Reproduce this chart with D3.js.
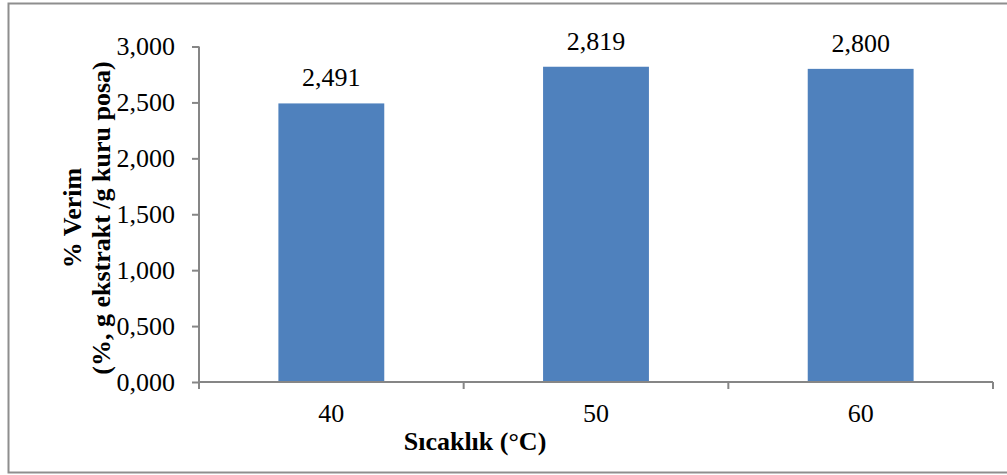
<!DOCTYPE html>
<html>
<head>
<meta charset="utf-8">
<script src="https://cdn.jsdelivr.net/npm/d3@7"></script>
<style>
  html, body { margin: 0; padding: 0; background: #fff; }
  svg { display: block; font-family: "Liberation Serif", "Times New Roman", serif; }
</style>
</head>
<body>
<svg id="chart" width="1007" height="475"></svg>
<script>
const categories = ["40", "50", "60"];
const values = [2.491, 2.819, 2.800];
const yTicks = [0, 0.5, 1, 1.5, 2, 2.5, 3];
const xTitle = "Sıcaklık (°C)";
const yTitle = ["% Verim", "(%, g ekstrakt /g kuru posa)"];

const trLocale = d3.formatLocale({ decimal: ",", thousands: ".", grouping: [3], currency: ["", ""] });
const fmt = trLocale.format(".3f");

const svg = d3.select("#chart");
const axisColor = "#868686";

// outer frame (no right edge visible in the picture)
svg.append("rect")
  .attr("x", 8.5).attr("y", 3.5)
  .attr("width", 1020).attr("height", 469)
  .attr("fill", "none")
  .attr("stroke", "#8e8e8e")
  .attr("stroke-width", 2);

const plotL = 199, plotR = 993, plotT = 46.5, plotB = 382;

const x = d3.scaleBand()
  .domain(categories)
  .range([plotL, plotR])
  .paddingInner(0.6)
  .paddingOuter(0.3);

const y = d3.scaleLinear().domain([0, 3]).range([plotB, plotT]);

// bars
svg.append("g")
  .selectAll("rect")
  .data(values)
  .join("rect")
  .attr("x", (d, i) => x(categories[i]))
  .attr("y", d => y(d))
  .attr("width", x.bandwidth())
  .attr("height", d => y(0) - y(d))
  .attr("fill", "#4f81bd");

// value labels
svg.append("g")
  .selectAll("text")
  .data(values)
  .join("text")
  .attr("x", (d, i) => x(categories[i]) + x.bandwidth() / 2)
  .attr("y", d => y(d) - 17)
  .attr("text-anchor", "middle")
  .attr("font-size", 26)
  .attr("fill", "#000")
  .text(d => fmt(d));

// y axis
const yAxis = svg.append("g")
  .attr("transform", `translate(${plotL},0)`)
  .call(d3.axisLeft(y).tickValues(yTicks).tickSize(7).tickPadding(17).tickFormat(fmt));
yAxis.select(".domain").attr("stroke", axisColor).attr("stroke-width", 2).attr("d", `M0,${plotT}V${plotB}`);
yAxis.selectAll(".tick line").attr("stroke", axisColor).attr("stroke-width", 2);
yAxis.selectAll(".tick text")
  .attr("font-size", 26)
  .attr("font-family", "Liberation Serif")
  .attr("fill", "#000");

// x axis: line plus boundary ticks between categories
const xg = svg.append("g");
xg.append("line")
  .attr("x1", plotL).attr("x2", plotR)
  .attr("y1", plotB).attr("y2", plotB)
  .attr("stroke", axisColor).attr("stroke-width", 2);
const gap = x.step() * x.paddingInner() / 2;
const bounds = [plotL].concat(categories.slice(0, -1).map(c => x(c) + x.bandwidth() + gap), [plotR]);
xg.selectAll("line.tk")
  .data(bounds)
  .join("line")
  .attr("class", "tk")
  .attr("x1", d => d).attr("x2", d => d)
  .attr("y1", plotB).attr("y2", plotB + 7)
  .attr("stroke", axisColor).attr("stroke-width", 2);
xg.selectAll("text")
  .data(categories)
  .join("text")
  .attr("x", d => x(d) + x.bandwidth() / 2)
  .attr("y", 421.5)
  .attr("text-anchor", "middle")
  .attr("font-size", 26)
  .attr("fill", "#000")
  .text(d => d);

// axis titles
svg.append("text")
  .attr("x", 475)
  .attr("y", 450)
  .attr("text-anchor", "middle")
  .attr("font-size", 26)
  .attr("font-weight", "bold")
  .text(xTitle);

const yt = svg.append("text")
  .attr("transform", "translate(0,218) rotate(-90)")
  .attr("text-anchor", "middle")
  .attr("font-size", 26)
  .attr("font-weight", "bold");
yt.selectAll("tspan")
  .data(yTitle)
  .join("tspan")
  .attr("x", 0)
  .attr("y", (d, i) => 81 + i * 29)
  .text(d => d);
</script>
</body>
</html>
